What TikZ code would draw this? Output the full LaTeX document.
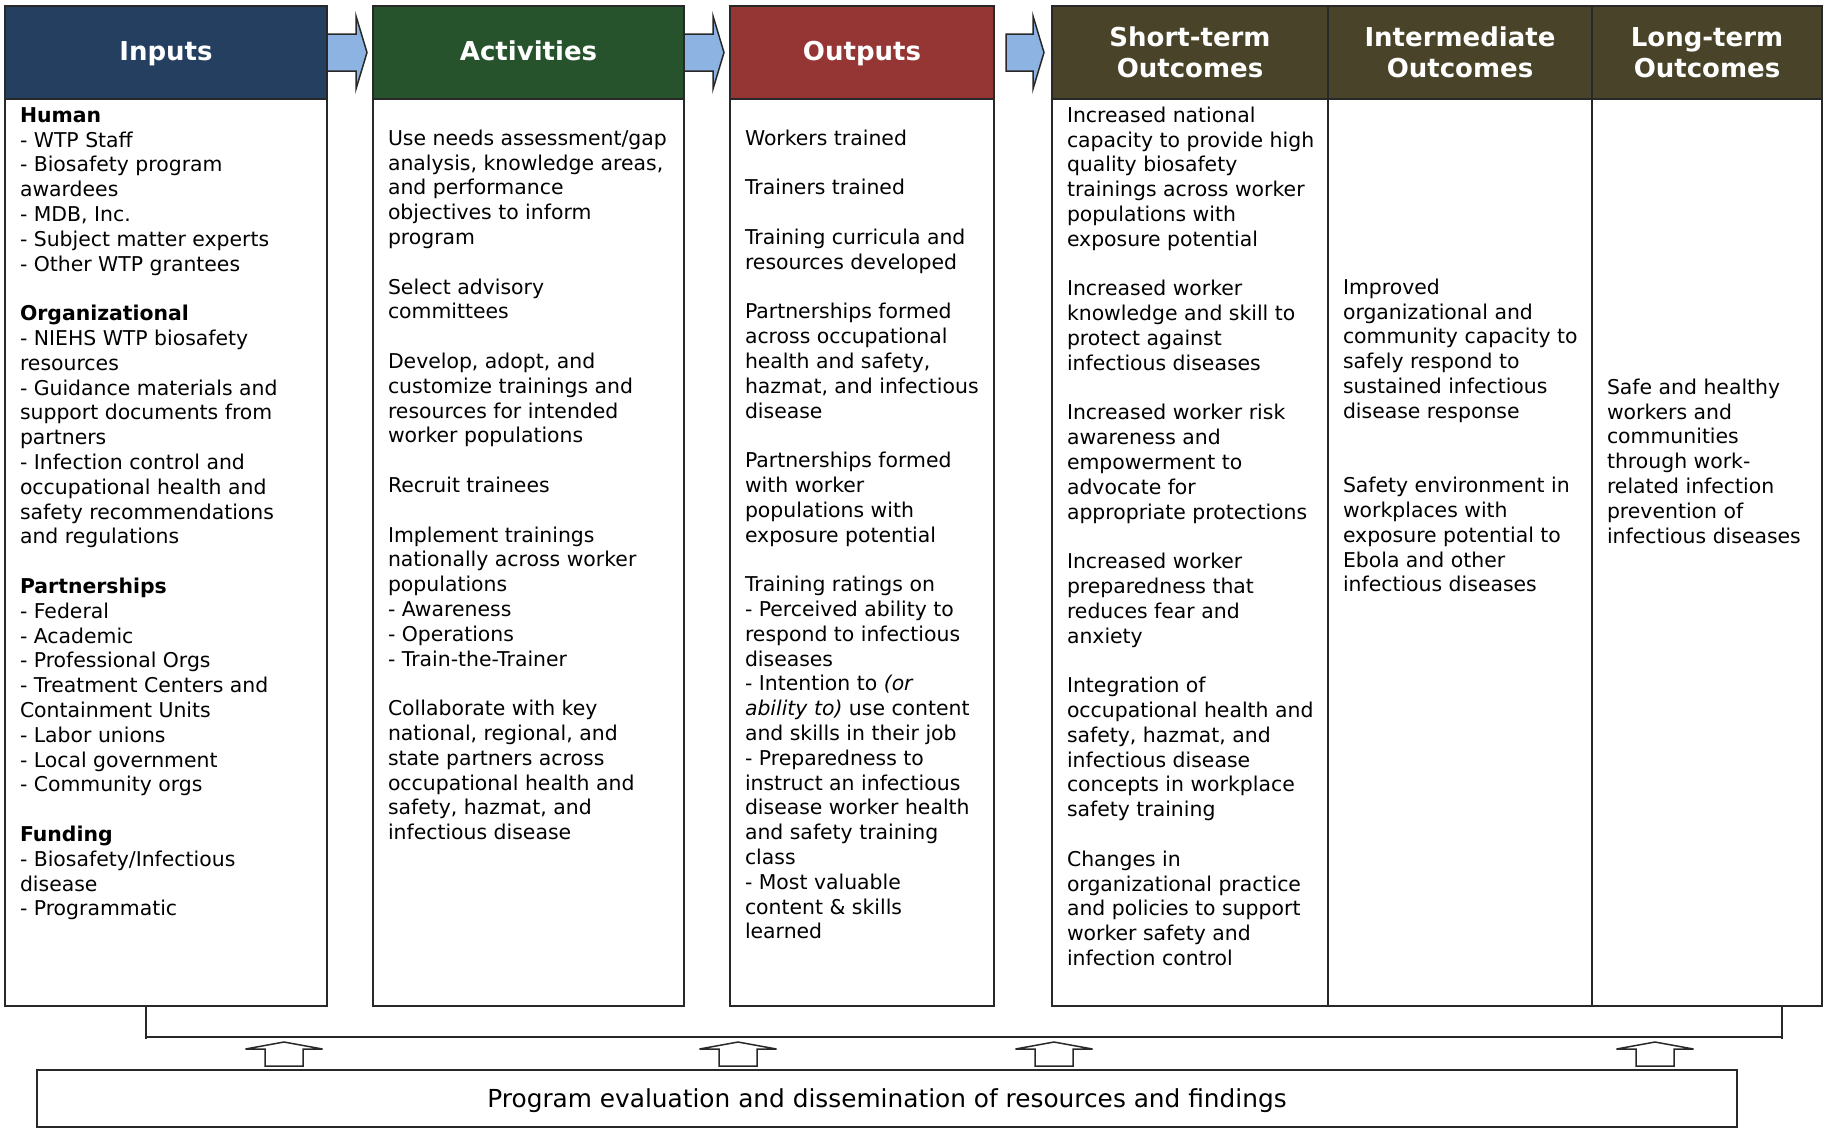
\documentclass[tikz,border=0pt]{standalone}
\usepackage{fontspec}
\setmainfont{DejaVu Sans}
\usetikzlibrary{calc}
\definecolor{cIn}{RGB}{36,63,96}
\definecolor{cAct}{RGB}{38,82,44}
\definecolor{cOut}{RGB}{150,54,52}
\definecolor{cOc}{RGB}{73,68,41}
\definecolor{cArr}{RGB}{141,179,226}
\definecolor{cLine}{RGB}{40,40,40}
\begin{document}
\begin{tikzpicture}[x=0.5pt,y=-0.5pt,
 hdr/.style={draw=cLine, line width=0.75pt, text=white, font=\fontsize{13}{15.5}\selectfont\bfseries, align=center, inner sep=0pt, outer sep=0pt},
 onehdr/.style={hdr, text height=10pt, text depth=2pt},
 body/.style={draw=cLine, line width=0.75pt, inner sep=0pt, outer sep=0pt, fill=white},
 txt/.style={anchor=north west, align=left, inner sep=0pt, outer sep=0pt, font=\fontsize{10.2}{12.4}\selectfont},
 blockarr/.style={fill=cArr, draw=cLine, line width=0.75pt, line join=miter},
 uparr/.style={fill=white, draw=cLine, line width=0.75pt},
 conn/.style={draw=cLine, line width=0.75pt}]
\useasboundingbox (0,0) rectangle (1826,1131);
\fill[white] (0,0) rectangle (1826,1131);

% bodies
\node[body, minimum width=161pt, minimum height=453.5pt] (inB) at (166,552.5) {};
\node[body, minimum width=155.5pt, minimum height=453.5pt] (actB) at (528.5,552.5) {};
\node[body, minimum width=132pt, minimum height=453.5pt] (outB) at (862,552.5) {};
\node[body, minimum width=138pt, minimum height=453.5pt] (sB) at (1190,552.5) {};
\node[body, minimum width=132pt, minimum height=453.5pt] (iB) at (1460,552.5) {};
\node[body, minimum width=115pt, minimum height=453.5pt] (lB) at (1707,552.5) {};

% headers
\node[onehdr, fill=cIn, minimum width=161pt, minimum height=46.5pt] (inH) at (166,52.5) {Inputs};
\node[onehdr, fill=cAct, minimum width=155.5pt, minimum height=46.5pt] (actH) at (528.5,52.5) {Activities};
\node[onehdr, fill=cOut, minimum width=132pt, minimum height=46.5pt] (outH) at (862,52.5) {Outputs};
\node[hdr, fill=cOc, minimum width=138pt, minimum height=46.5pt] (sH) at (1190,52.5) {Short-term\\Outcomes};
\node[hdr, fill=cOc, minimum width=132pt, minimum height=46.5pt] (iH) at (1460,52.5) {Intermediate\\Outcomes};
\node[hdr, fill=cOc, minimum width=115pt, minimum height=46.5pt] (lH) at (1707,52.5) {Long-term\\Outcomes};

% block arrows
\draw[blockarr] (inH.east) ++(0,-18.5) -- ++(29,0) -- ++(0,-18) -- ++(11,36.5) -- ++(-11,36.5) -- ++(0,-18) -- ++(-29,0) -- cycle;
\draw[blockarr] (actH.east) ++(0,-18.5) -- ++(29,0) -- ++(0,-18) -- ++(11,36.5) -- ++(-11,36.5) -- ++(0,-18) -- ++(-29,0) -- cycle;
\draw[blockarr] (outH.east) ++(12,-18.5) -- ++(27,0) -- ++(0,-18) -- ++(11,36.5) -- ++(-11,36.5) -- ++(0,-18) -- ++(-27,0) -- cycle;

% texts
\node[txt] (inT) at (20,105) {\strut\textbf{Human}\\
- WTP Staff\\
- Biosafety program\\
awardees\\
- MDB, Inc.\\
- Subject matter experts\\
- Other WTP grantees\\[12.4pt]
\textbf{Organizational}\\
- NIEHS WTP biosafety\\
resources\\
- Guidance materials and\\
support documents from\\
partners\\
- Infection control and\\
occupational health and\\
safety recommendations\\
and regulations\\[12.4pt]
\textbf{Partnerships}\\
- Federal\\
- Academic\\
- Professional Orgs\\
- Treatment Centers and\\
Containment Units\\
- Labor unions\\
- Local government\\
- Community orgs\\[12.4pt]
\textbf{Funding}\\
- Biosafety/Infectious\\
disease\\
- Programmatic};

\node[txt] (actT) at (388,128) {\strut Use needs assessment/gap\\
analysis, knowledge areas,\\
and performance\\
objectives to inform\\
program\\[12.4pt]
Select advisory\\
committees\\[12.4pt]
Develop, adopt, and\\
customize trainings and\\
resources for intended\\
worker populations\\[12.4pt]
Recruit trainees\\[12.4pt]
Implement trainings\\
nationally across worker\\
populations\\
- Awareness\\
- Operations\\
- Train-the-Trainer\\[12.4pt]
Collaborate with key\\
national, regional, and\\
state partners across\\
occupational health and\\
safety, hazmat, and\\
infectious disease};

\node[txt] (outT) at (745,128) {\strut Workers trained\\[12.4pt]
Trainers trained\\[12.4pt]
Training curricula and\\
resources developed\\[12.4pt]
Partnerships formed\\
across occupational\\
health and safety,\\
hazmat, and infectious\\
disease\\[12.4pt]
Partnerships formed\\
with worker\\
populations with\\
exposure potential\\[12.4pt]
Training ratings on\\
- Perceived ability to\\
respond to infectious\\
diseases\\
- Intention to \textit{(or}\\
\textit{ability to)} use content\\
and skills in their job\\
- Preparedness to\\
instruct an infectious\\
disease worker health\\
and safety training\\
class\\
- Most valuable\\
content \& skills\\
learned};

\node[txt] (sT) at (1067,105) {\strut Increased national\\
capacity to provide high\\
quality biosafety\\
trainings across worker\\
populations with\\
exposure potential\\[12.4pt]
Increased worker\\
knowledge and skill to\\
protect against\\
infectious diseases\\[12.4pt]
Increased worker risk\\
awareness and\\
empowerment to\\
advocate for\\
appropriate protections\\[12.4pt]
Increased worker\\
preparedness that\\
reduces fear and\\
anxiety\\[12.4pt]
Integration of\\
occupational health and\\
safety, hazmat, and\\
infectious disease\\
concepts in workplace\\
safety training\\[12.4pt]
Changes in\\
organizational practice\\
and policies to support\\
worker safety and\\
infection control};

\node[txt] (iT) at (1343,277) {\strut Improved\\
organizational and\\
community capacity to\\
safely respond to\\
sustained infectious\\
disease response\\[24.8pt]
Safety environment in\\
workplaces with\\
exposure potential to\\
Ebola and other\\
infectious diseases};

\node[txt] (lT) at (1607,377) {\strut Safe and healthy\\
workers and\\
communities\\
through work-\\
related infection\\
prevention of\\
infectious diseases};

% bottom box
\node[body, minimum width=850pt, minimum height=28.5pt, text depth=0.5pt, font=\fontsize{12.4}{14}\selectfont] (eval) at (887,1098.5) {Program evaluation and dissemination of resources and findings};

% bracket
\coordinate (brL) at (146,1037);
\coordinate (brR) at (1782,1037);
\draw[conn] (inB.south -| brL) -- ++(0,33);
\draw[conn] (lB.south -| brR) -- ++(0,33);
\draw[conn] (brL) -- (brR);

% up arrows
\coordinate (u1) at (284,1037);
\coordinate (u2) at (738,1037);
\coordinate (u3) at (1054,1037);
\coordinate (u4) at (1655,1037);
\foreach \u in {u1,u2,u3,u4}{
  \draw[uparr] (eval.north -| \u) ++(-19,-4) -- ++(0,-17) -- ++(-19.5,0) -- ++(38.5,-7) -- ++(38.5,7) -- ++(-19.5,0) -- ++(0,17) -- cycle;
}
\end{tikzpicture}
\end{document}
